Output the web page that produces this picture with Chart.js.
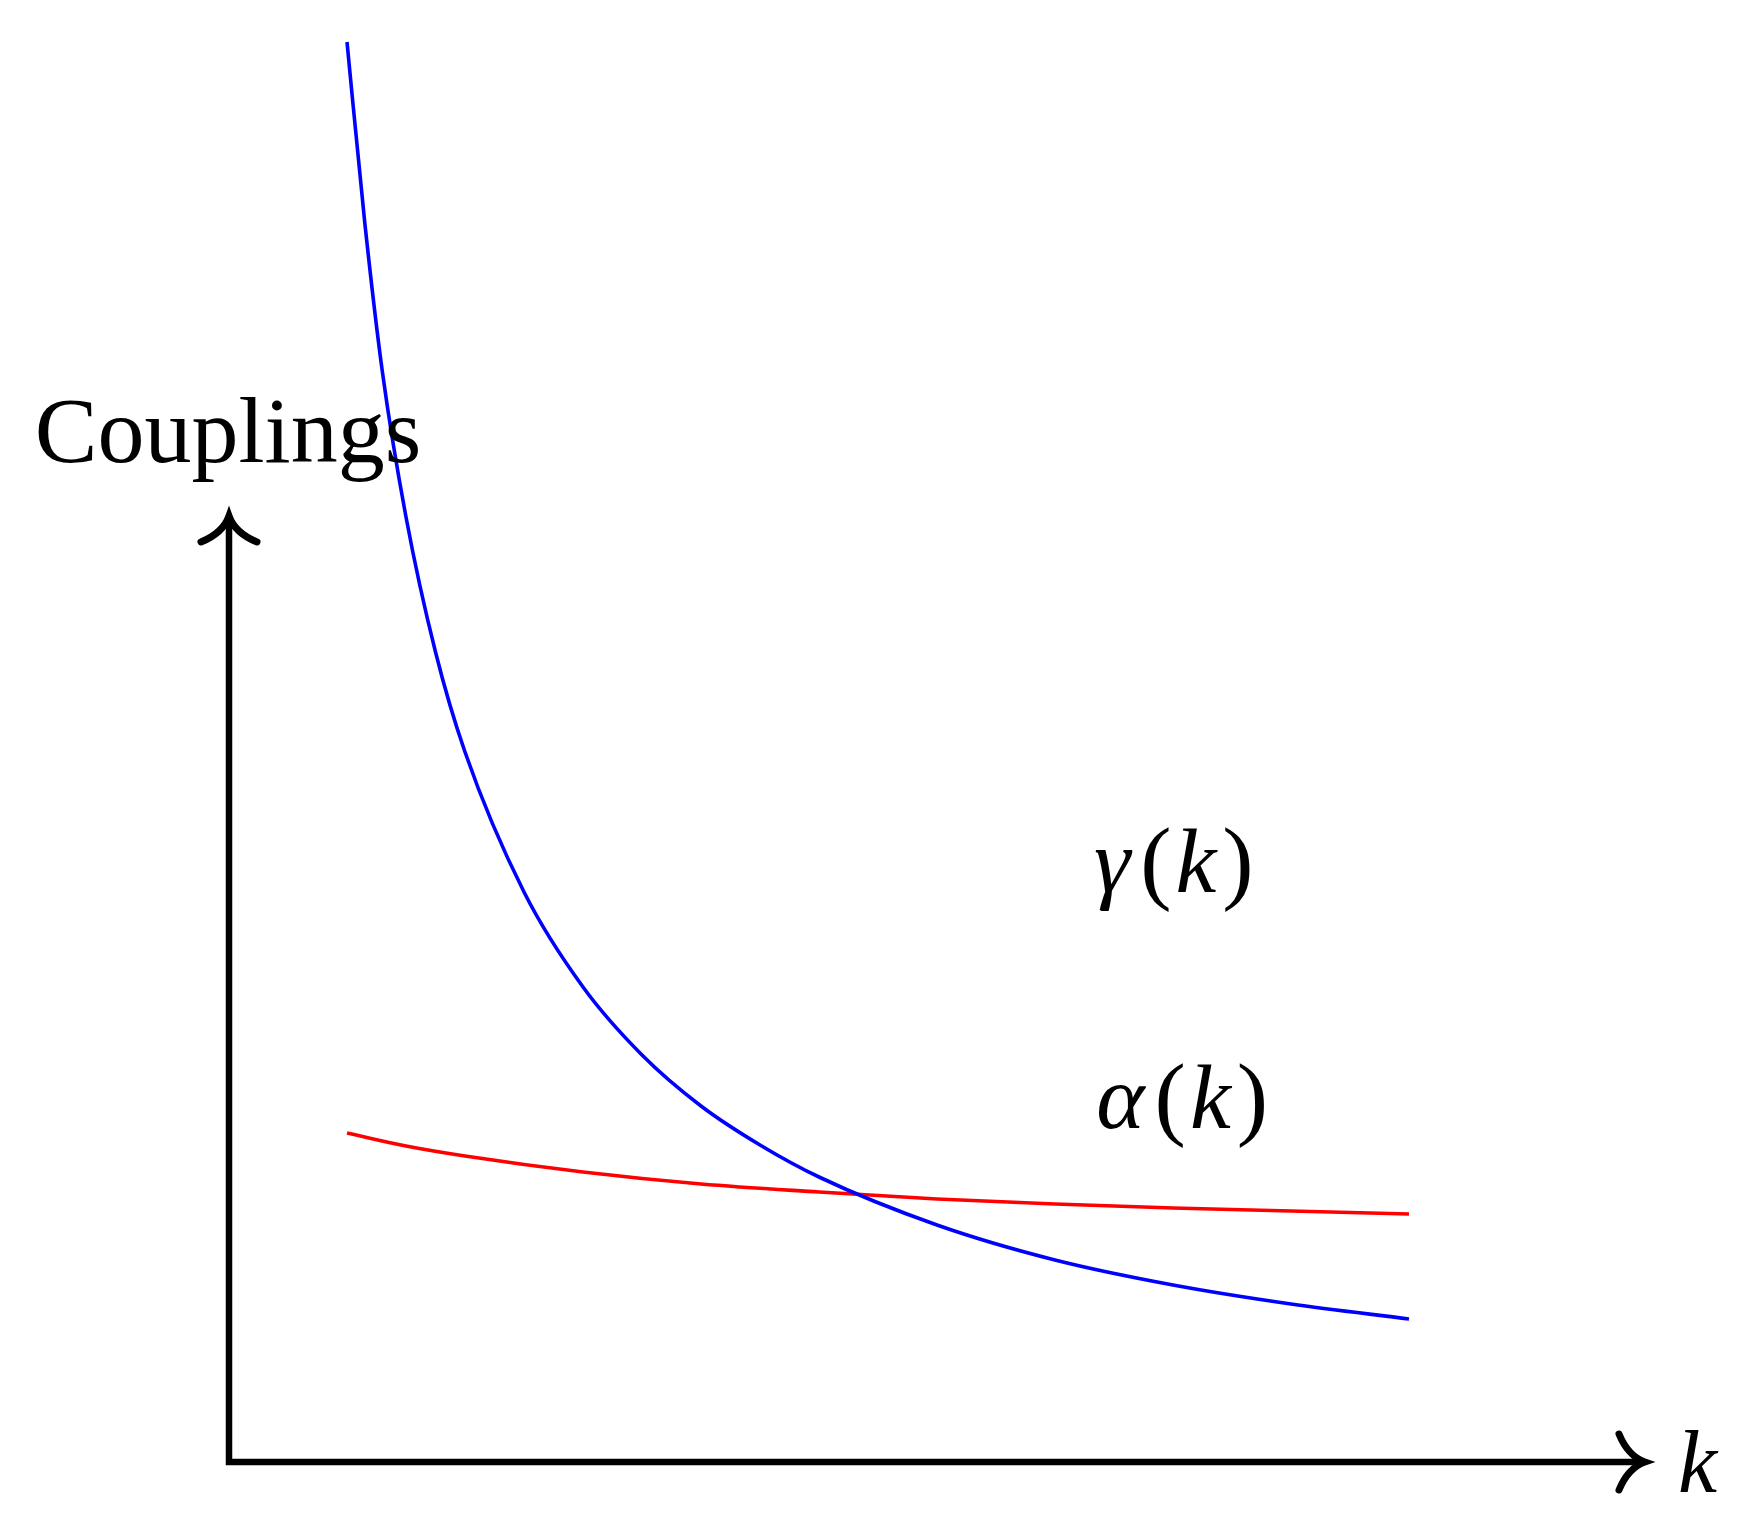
<!DOCTYPE html>
<html>
<head>
<meta charset="utf-8">
<script src="https://cdn.jsdelivr.net/npm/chart.js@4"></script>
<style>
  html, body { margin: 0; padding: 0; background: #fff; }
  #wrap { width: 1750px; height: 1539px; }
</style>
</head>
<body>
<div id="wrap"><canvas id="couplings"></canvas></div>
<script>
// values (k from 0 at the vertical axis)
const gammaK = [1, 1.15, 1.3, 1.5, 1.75, 2, 2.5, 3, 3.5, 4, 4.5, 5, 6, 7, 8, 9, 10];
const gammaValues = [14.2, 12.4, 10.9, 9.45, 8.1, 7.1, 5.7, 4.75, 4.07, 3.56, 3.17, 2.85, 2.37, 2.02, 1.77, 1.58, 1.43];
const alphaK = [1, 1.5, 2, 3, 4, 5, 6, 7, 8, 9, 10];
const alphaValues = [3.29, 3.16, 3.06, 2.9, 2.78, 2.7, 2.63, 2.58, 2.54, 2.51, 2.48];

const xAxisEnd = 12;      // where the k arrow points
const yAxisEnd = 9.46;    // where the vertical arrow points
const yTitle = "Couplings";
const xTitle = "k";
const gammaName = "γ";
const alphaName = "α";

function toPoints(xs, ys) {
    return xs.map((x, i) => ({ x: x, y: ys[i] }));
}

function arrowHead(ctx, tipX, tipY, dir) {
    // curved tikz-like "->" tip, dir = "up" or "right"
    const w = 28, l = 26;
    ctx.beginPath();
    if (dir === "up") {
        ctx.moveTo(tipX - w, tipY + l);
        ctx.quadraticCurveTo(tipX - 6, tipY + 17, tipX, tipY);
        ctx.quadraticCurveTo(tipX + 6, tipY + 17, tipX + w, tipY + l);
    } else {
        ctx.moveTo(tipX - l, tipY - w);
        ctx.quadraticCurveTo(tipX - 17, tipY - 6, tipX, tipY);
        ctx.quadraticCurveTo(tipX - 17, tipY + 6, tipX - l, tipY + w);
    }
    ctx.stroke();
}

// math label like "γ(k)": italic letters, upright parentheses
function mathLabel(ctx, name, x, y) {
    const italic = 'italic 92px "Liberation Serif", serif';
    const upright = '94px "Liberation Serif", serif';
    const parts = [[name, italic, 10], ["(", upright, 4], ["k", italic, 6], [")", upright, 0]];
    let cx = x;
    parts.forEach(([t, f, gap]) => {
        ctx.font = f;
        ctx.fillText(t, cx, y);
        cx += ctx.measureText(t).width + gap;
    });
}

const axesPlugin = {
    id: "axesPlugin",
    afterDatasetsDraw(chart) {
        const ctx = chart.ctx;
        const xs = chart.scales.x;
        const ys = chart.scales.y;
        const x0 = xs.getPixelForValue(0);
        const y0 = ys.getPixelForValue(0);
        const xEnd = xs.getPixelForValue(xAxisEnd);
        const yEnd = ys.getPixelForValue(yAxisEnd);

        ctx.save();
        ctx.strokeStyle = "#000";
        ctx.lineWidth = 6.5;
        ctx.lineCap = "butt";
        ctx.beginPath();
        ctx.moveTo(x0, y0 + 3.2);
        ctx.lineTo(x0, yEnd + 3);
        ctx.moveTo(x0 - 3.2, y0);
        ctx.lineTo(xEnd - 3, y0);
        ctx.stroke();
        ctx.lineCap = "round";
        ctx.lineWidth = 7;
        arrowHead(ctx, x0, yEnd, "up");
        arrowHead(ctx, xEnd, y0, "right");

        ctx.fillStyle = "#000";
        ctx.textBaseline = "alphabetic";
        ctx.textAlign = "center";
        ctx.font = '94px "Liberation Serif", serif';
        ctx.fillText(yTitle, x0 - 1, 462);

        ctx.textAlign = "left";
        ctx.font = 'italic 88px "Liberation Serif", serif';
        ctx.fillText(xTitle, xEnd + 33, 1492);

        mathLabel(ctx, gammaName, xs.getPixelForValue(7.33), 892);
        mathLabel(ctx, alphaName, xs.getPixelForValue(7.35), 1128);
        ctx.restore();
    },
};

new Chart(document.getElementById("couplings").getContext("2d"), {
    type: "scatter",
    data: {
        datasets: [
            {
                label: "gamma",
                data: toPoints(gammaK, gammaValues),
                showLine: true,
                borderColor: "#0000ff",
                borderWidth: 3.6,
                pointRadius: 0,
                cubicInterpolationMode: "monotone",
            },
            {
                label: "alpha",
                data: toPoints(alphaK, alphaValues),
                showLine: true,
                borderColor: "#ff0000",
                borderWidth: 3.6,
                pointRadius: 0,
                cubicInterpolationMode: "monotone",
            },
        ],
    },
    options: {
        responsive: true,
        maintainAspectRatio: false,
        animation: false,
        layout: {
            padding: { left: 229, right: 105, top: 40, bottom: 77 },
        },
        scales: {
            x: { type: "linear", min: 0, max: xAxisEnd, display: false },
            y: { type: "linear", min: 0, max: 14.22, display: false },
        },
        plugins: {
            legend: { display: false },
            tooltip: { enabled: false },
        },
    },
    plugins: [axesPlugin],
});
</script>
</body>
</html>
